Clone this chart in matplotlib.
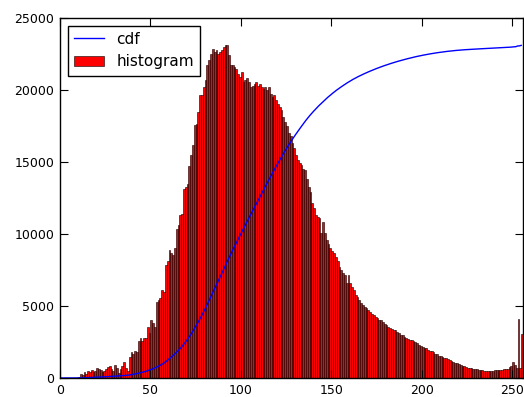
import numpy as np
import matplotlib
matplotlib.use("Agg")
import matplotlib.pyplot as plt

bin_edges_range = (0, 256)
n_bins = 256

hist_counts = [
    0, 0, 0, 0, 0, 0, 0, 0, 0, 0,
    100, 280, 200, 440, 300, 480, 400, 550, 450, 500,
    670, 600, 550, 450, 500, 620, 740, 830, 600, 500,
    900, 700, 370, 600, 800, 1130, 700, 500, 1480, 1820,
    1700, 1900, 1800, 2590, 2750, 2600, 2800, 2750, 3560, 3100,
    4020, 3800, 3560, 5290, 5400, 5590, 6140, 6000, 7830, 8100,
    8870, 8700, 8520, 9030, 10370, 10600, 11300, 11400, 13100, 13280,
    13500, 14700, 15470, 16170, 17550, 17670, 18500, 19640, 19640, 20220,
    20680, 21720, 22100, 22530, 22870, 22640, 22760, 22500, 22640, 22800,
    22990, 23100, 23100, 22400, 21720, 21720, 21600, 21490, 21140, 20900,
    21260, 20560, 20700, 20800, 20560, 20200, 20300, 20450, 20560, 20300,
    20450, 20200, 20100, 20200, 20000, 20200, 19750, 19500, 19640, 19300,
    19060, 18800, 18600, 18130, 17800, 17500, 17000, 16800, 16300, 15940,
    15500, 15130, 14900, 14780, 14500, 14430, 13850, 13280, 12900, 12120,
    11800, 11310, 11200, 11080, 10040, 10850, 10040, 9580, 9300, 9000,
    8800, 8650, 8420, 8100, 7730, 7500, 7260, 7150, 6570, 7150,
    6570, 6300, 6110, 5760, 5600, 5410, 5200, 5070, 4950, 4830,
    4700, 4600, 4450, 4370, 4250, 4140, 4020, 4000, 3910, 3750,
    3680, 3550, 3450, 3400, 3330, 3330, 3200, 3100, 3000, 2980,
    2870, 2800, 2680, 2660, 2640, 2580, 2520, 2400, 2290, 2200,
    2130, 2100, 2060, 1950, 1900, 1850, 1830, 1700, 1670, 1530,
    1500, 1480, 1400, 1360, 1300, 1250, 1180, 1130, 1050, 1020,
    970, 900, 830, 800, 790, 700, 670, 660, 650, 620,
    600, 555, 560, 555, 520, 510, 500, 510, 500, 510,
    530, 555, 550, 555, 560, 600, 600, 650, 790, 830,
    1130, 900, 700, 4070, 700, 3050,
]
series_labels = ["cdf", "histogram"]
x_ticks = [0, 50, 100, 150, 200, 250]
y_ticks = [0, 5000, 10000, 15000, 20000, 25000]

hist = np.array(hist_counts, dtype=float)
levels = np.arange(n_bins)
cdf = hist.cumsum()
cdf_normalized = cdf * hist.max() / cdf.max()

fig = plt.figure(figsize=(5.24, 3.97), dpi=100, facecolor="white")
ax = fig.add_axes([60 / 524, 1 - 378 / 397, 463 / 524, 360 / 397])

ax.plot(levels, cdf_normalized, color="b", linewidth=1.0, label=series_labels[0])
ax.hist(levels, bins=n_bins, range=bin_edges_range, weights=hist,
        color="r", edgecolor="k", linewidth=0.4, label=series_labels[1])

ax.set_xlim(bin_edges_range)
ax.set_ylim(0, 25000)
ax.set_xticks(x_ticks)
ax.set_yticks(y_ticks)
ax.tick_params(direction="in", top=True, right=True, labelsize=9, length=6,
               pad=4)
for s in ax.spines.values():
    s.set_linewidth(1.0)

leg = ax.legend(loc="upper left", fontsize=11, fancybox=False,
                edgecolor="k", framealpha=1, borderaxespad=0.5,
                handlelength=2.0)
leg.get_frame().set_linewidth(1.0)

fig.savefig("out.png", dpi=100, facecolor="white")
